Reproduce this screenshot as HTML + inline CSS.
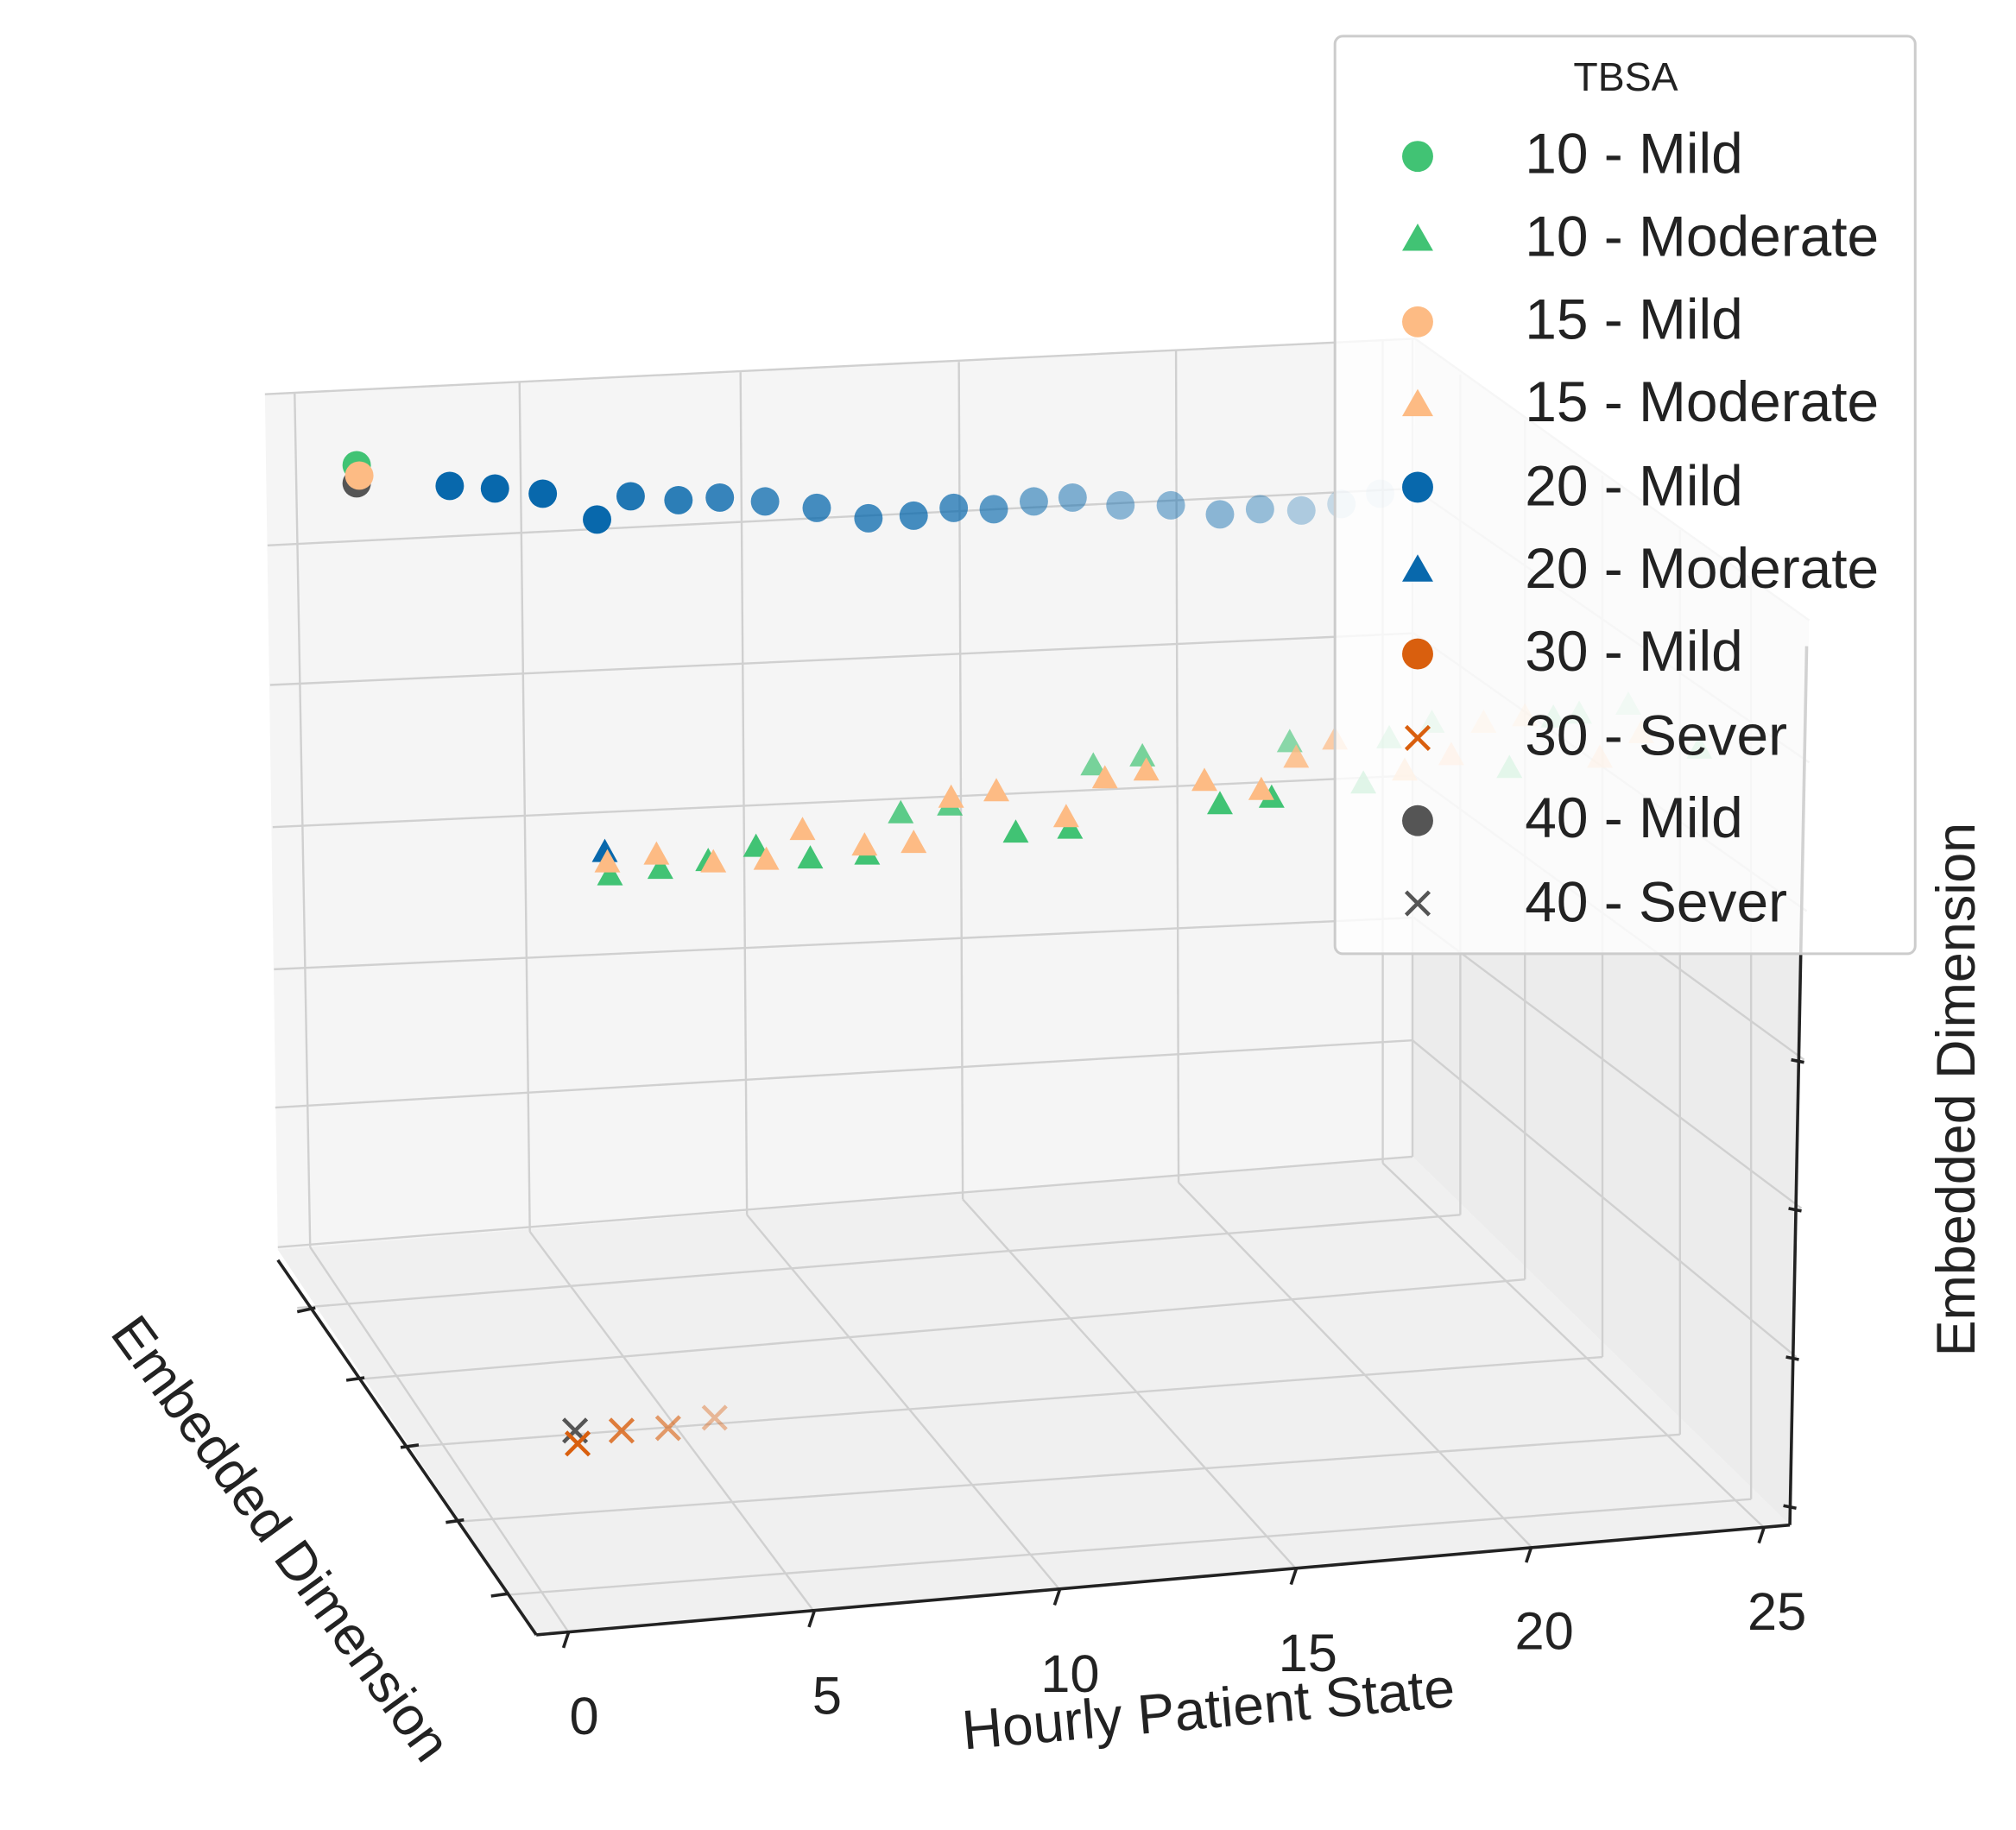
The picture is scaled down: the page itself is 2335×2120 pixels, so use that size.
<!DOCTYPE html>
<html><head><meta charset="utf-8"><style>
html,body{margin:0;padding:0;background:#fff;}
svg{display:block;font-family:"Liberation Sans",Arial,sans-serif;}
</style></head><body>
<svg width="2335" height="2120" viewBox="0 0 1560 1416" preserveAspectRatio="none" xmlns="http://www.w3.org/2000/svg">
<defs>
<path id="tri" d="M0,-11 L10,7 L-10,7 Z"/>
<path id="ltri" d="M0,-13 L12,8 L-12,8 Z"/>
<circle id="cir" r="11"/>
<circle id="lcir" r="12"/>
<path id="crs" d="M-9,-9 L9,9 M-9,9 L9,-9" stroke-width="3" fill="none"/>
</defs>
<!-- panes -->
<polygon points="205,305 1095,262 1093,895 215,967" fill="#f5f5f5"/>
<polygon points="1095,262 1400,480 1385,1180 1093,895" fill="#ececec"/>
<polygon points="215,967 1093,895 1385,1180 415,1265" fill="#f0f0f0"/>
<g stroke="#d0d0d0" stroke-width="1.6" fill="none">
<line x1="207" y1="422" x2="1094" y2="378"/>
<line x1="209" y1="530" x2="1094" y2="490"/>
<line x1="211" y1="640" x2="1094" y2="600"/>
<line x1="212" y1="750" x2="1094" y2="710"/>
<line x1="213" y1="857" x2="1093" y2="805"/>
<line x1="215" y1="965" x2="1093" y2="895"/>
<line x1="228" y1="304" x2="240" y2="965"/>
<line x1="402" y1="296" x2="410" y2="953"/>
<line x1="573" y1="288" x2="578" y2="940"/>
<line x1="742" y1="280" x2="745" y2="928"/>
<line x1="910" y1="271" x2="912" y2="915"/>
<line x1="1070" y1="263" x2="1070" y2="900"/>
<line x1="240" y1="965" x2="440" y2="1263"/>
<line x1="410" y1="953" x2="630" y2="1247"/>
<line x1="578" y1="940" x2="820" y2="1230"/>
<line x1="745" y1="928" x2="1003" y2="1214"/>
<line x1="912" y1="915" x2="1185" y2="1197"/>
<line x1="1070" y1="900" x2="1365" y2="1182"/>
<line x1="230" y1="1012" x2="1130" y2="940"/>
<line x1="268" y1="1068" x2="1180" y2="990"/>
<line x1="310" y1="1120" x2="1240" y2="1050"/>
<line x1="345" y1="1178" x2="1300" y2="1110"/>
<line x1="380" y1="1235" x2="1355" y2="1160"/>
<line x1="1093" y1="262" x2="1093" y2="895"/>
<line x1="1130" y1="290" x2="1130" y2="940"/>
<line x1="1180" y1="325" x2="1180" y2="990"/>
<line x1="1240" y1="368" x2="1240" y2="1050"/>
<line x1="1300" y1="410" x2="1300" y2="1110"/>
<line x1="1355" y1="450" x2="1355" y2="1160"/>
<line x1="1094" y1="378" x2="1400" y2="590"/>
<line x1="1094" y1="490" x2="1398" y2="705"/>
<line x1="1094" y1="600" x2="1396" y2="820"/>
<line x1="1094" y1="710" x2="1394" y2="935"/>
<line x1="1093" y1="805" x2="1390" y2="1050"/>
<line x1="205" y1="305" x2="1095" y2="262"/>
<line x1="1095" y1="262" x2="1400" y2="480"/>
</g>
<g stroke="#222" stroke-width="2.4" fill="none">
<line x1="215" y1="975" x2="415" y2="1265"/>
<line x1="415" y1="1265" x2="1385" y2="1180"/>
<line x1="1398" y1="500" x2="1385" y2="1180"/>
<line x1="230" y1="1015" x2="244" y2="1012"/>
<line x1="268" y1="1068" x2="282" y2="1066"/>
<line x1="310" y1="1120" x2="324" y2="1118"/>
<line x1="345" y1="1178" x2="359" y2="1176"/>
<line x1="380" y1="1235" x2="394" y2="1233"/>
<line x1="440" y1="1263" x2="436" y2="1275"/>
<line x1="630" y1="1247" x2="626" y2="1259"/>
<line x1="820" y1="1230" x2="816" y2="1242"/>
<line x1="1003" y1="1214" x2="999" y2="1226"/>
<line x1="1185" y1="1197" x2="1181" y2="1209"/>
<line x1="1365" y1="1182" x2="1361" y2="1194"/>
<line x1="1386" y1="820" x2="1396" y2="822"/>
<line x1="1384" y1="935" x2="1394" y2="937"/>
<line x1="1382" y1="1050" x2="1392" y2="1052"/>
<line x1="1380" y1="1165" x2="1390" y2="1167"/>
</g>
<g fill="#0868ac">
<use href="#cir" x="348" y="376"/><use href="#cir" x="383" y="378"/><use href="#cir" x="420" y="382"/>
<use href="#cir" x="462" y="402"/><use href="#cir" x="488" y="384" opacity="0.9"/><use href="#cir" x="525" y="387" opacity="0.85"/>
<use href="#cir" x="557" y="385" opacity="0.8"/><use href="#cir" x="592" y="388" opacity="0.75"/><use href="#cir" x="632" y="393" opacity="0.75"/>
<use href="#cir" x="672" y="401" opacity="0.75"/><use href="#cir" x="707" y="399" opacity="0.75"/><use href="#cir" x="738" y="393" opacity="0.7"/>
<use href="#cir" x="769" y="394" opacity="0.65"/><use href="#cir" x="800" y="388" opacity="0.55"/><use href="#cir" x="830" y="385" opacity="0.5"/>
<use href="#cir" x="867" y="391" opacity="0.45"/><use href="#cir" x="906" y="391" opacity="0.45"/><use href="#cir" x="944" y="398" opacity="0.45"/>
<use href="#cir" x="975" y="394" opacity="0.4"/><use href="#cir" x="1007" y="395" opacity="0.3"/><use href="#cir" x="1038" y="390" opacity="0.2"/>
<use href="#cir" x="1068" y="382" opacity="0.15"/>
</g>
<use href="#cir" x="276" y="360" fill="#41c374"/>
<use href="#cir" x="276" y="374" fill="#555"/>
<use href="#cir" x="278" y="368" fill="#fdbb84"/>
<g fill="#41c374">
<use href="#tri" x="472" y="678"/><use href="#tri" x="511" y="673"/><use href="#tri" x="548" y="667"/><use href="#tri" x="585" y="656"/>
<use href="#tri" x="627" y="665"/><use href="#tri" x="671" y="662"/><use href="#tri" x="697" y="630" opacity="0.85"/><use href="#tri" x="735" y="624" opacity="0.85"/>
<use href="#tri" x="786" y="645"/><use href="#tri" x="828" y="642"/><use href="#tri" x="846" y="593" opacity="0.7"/><use href="#tri" x="884" y="586" opacity="0.7"/>
<use href="#tri" x="944" y="623"/><use href="#tri" x="984" y="618"/><use href="#tri" x="998" y="575" opacity="0.6"/><use href="#tri" x="1055" y="607" opacity="0.8"/>
<use href="#tri" x="1075" y="572" opacity="0.5"/><use href="#tri" x="1108" y="560" opacity="0.4"/><use href="#tri" x="1168" y="595" opacity="0.7"/><use href="#tri" x="1202" y="556" opacity="0.5"/>
<use href="#tri" x="1222" y="553" opacity="0.4"/><use href="#tri" x="1260" y="546" opacity="0.3"/><use href="#tri" x="1315" y="580" opacity="0.5"/>
</g>
<use href="#tri" x="468" y="660" fill="#0868ac"/>
<g fill="#fdbb84">
<use href="#tri" x="470" y="668"/><use href="#tri" x="508" y="662"/><use href="#tri" x="552" y="668"/><use href="#tri" x="593" y="666"/>
<use href="#tri" x="621" y="643"/><use href="#tri" x="669" y="655"/><use href="#tri" x="707" y="653"/><use href="#tri" x="736" y="618"/>
<use href="#tri" x="771" y="613"/><use href="#tri" x="825" y="633"/><use href="#tri" x="855" y="603"/><use href="#tri" x="887" y="597"/>
<use href="#tri" x="932" y="605"/><use href="#tri" x="976" y="612"/><use href="#tri" x="1003" y="587" opacity="0.85"/><use href="#tri" x="1033" y="573" opacity="0.7"/>
<use href="#tri" x="1087" y="597" opacity="0.8"/><use href="#tri" x="1123" y="585" opacity="0.7"/><use href="#tri" x="1148" y="560" opacity="0.5"/><use href="#tri" x="1180" y="555" opacity="0.5"/>
<use href="#tri" x="1238" y="587" opacity="0.6"/><use href="#tri" x="1270" y="568" opacity="0.5"/>
</g>
<use href="#crs" x="445" y="1107" stroke="#555"/>
<use href="#crs" x="447" y="1117" stroke="#d95f0e"/>
<use href="#crs" x="481" y="1107" stroke="#d95f0e" opacity="0.8"/>
<use href="#crs" x="517" y="1105" stroke="#d95f0e" opacity="0.6"/>
<use href="#crs" x="553" y="1097" stroke="#d95f0e" opacity="0.4"/>
<g font-size="41" fill="#222" text-anchor="middle">
<text x="452" y="1342">0</text><text x="640" y="1326">5</text><text x="828" y="1309">10</text>
<text x="1012" y="1293">15</text><text x="1195" y="1276">20</text><text x="1375" y="1261">25</text>
</g>
<text x="935" y="1337" font-size="43" fill="#222" text-anchor="middle" transform="rotate(-5 935 1322)">Hourly Patient State</text>
<text x="218" y="1205" font-size="42" fill="#222" text-anchor="middle" transform="rotate(54 218 1190)">Embedded Dimension</text>
<text x="1528" y="843" font-size="42" fill="#222" text-anchor="middle" transform="rotate(-90 1528 843)">Embedded Dimension</text>
<rect x="1033" y="28" width="449" height="710" rx="6" fill="#fff" fill-opacity="0.8" stroke="#cccccc" stroke-width="2"/>
<text x="1258" y="70" font-size="31" fill="#222" text-anchor="middle">TBSA</text>
<use href="#lcir" x="1097" y="121" fill="#41c374"/>
<use href="#ltri" x="1097" y="186" fill="#41c374"/>
<use href="#lcir" x="1097" y="249" fill="#fdbb84"/>
<use href="#ltri" x="1097" y="314" fill="#fdbb84"/>
<use href="#lcir" x="1097" y="377" fill="#0868ac"/>
<use href="#ltri" x="1097" y="442" fill="#0868ac"/>
<use href="#lcir" x="1097" y="506" fill="#d95f0e"/>
<use href="#crs" x="1097" y="571" stroke="#d95f0e"/>
<use href="#lcir" x="1097" y="635" fill="#555"/>
<use href="#crs" x="1097" y="699" stroke="#555"/>
<g font-size="44" fill="#222">
<text x="1180" y="134">10 - Mild</text>
<text x="1180" y="198">10 - Moderate</text>
<text x="1180" y="262">15 - Mild</text>
<text x="1180" y="326">15 - Moderate</text>
<text x="1180" y="391">20 - Mild</text>
<text x="1180" y="455">20 - Moderate</text>
<text x="1180" y="519">30 - Mild</text>
<text x="1180" y="584">30 - Sever</text>
<text x="1180" y="648">40 - Mild</text>
<text x="1180" y="713">40 - Sever</text>
</g>
</svg>
</body></html>
